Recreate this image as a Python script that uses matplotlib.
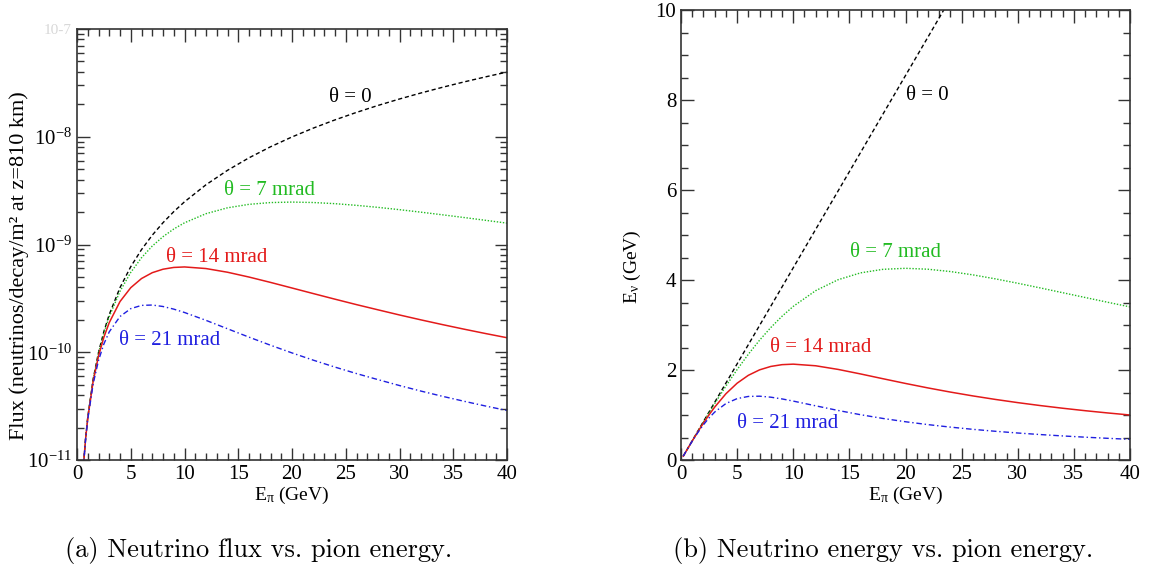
import numpy as np
import matplotlib
matplotlib.use("Agg")
import matplotlib.pyplot as plt
from matplotlib.ticker import MultipleLocator, FixedLocator, LogLocator, NullFormatter

plt.rcParams["font.family"] = ["Liberation Serif", "DejaVu Serif"]
plt.rcParams["mathtext.fontset"] = "custom"
plt.rcParams["mathtext.rm"] = "Liberation Serif"
plt.rcParams["mathtext.it"] = "Liberation Serif:italic"

# pion energy grid (GeV)
e_pi = [0.2, 0.6, 0.8, 1, 1.5, 2, 2.5, 3, 4, 5, 6, 7, 8, 9, 10, 12, 14, 16,
        18, 20, 22, 24, 26, 28, 30, 32, 34, 36, 38, 40]

# neutrino flux (neutrinos/decay/m^2 at z=810 km)
flux_0 = [9.96e-13, 8.96e-12, 1.593e-11, 2.490e-11, 5.604e-11, 9.961e-11, 1.556e-10,
          2.241e-10, 3.983e-10, 6.224e-10, 8.963e-10, 1.220e-9, 1.593e-9, 2.017e-9,
          2.490e-9, 3.585e-9, 4.880e-9, 6.374e-9, 8.067e-9, 9.959e-9, 1.205e-8,
          1.434e-8, 1.683e-8, 1.952e-8, 2.241e-8, 2.549e-8, 2.878e-8, 3.227e-8,
          3.595e-8, 3.984e-8]
flux_7 = [9.96e-13, 8.94e-12, 1.588e-11, 2.478e-11, 5.541e-11, 9.764e-11, 1.508e-10,
          2.143e-10, 3.681e-10, 5.510e-10, 7.537e-10, 9.671e-10, 1.182e-9, 1.392e-9,
          1.590e-9, 1.932e-9, 2.190e-9, 2.359e-9, 2.450e-9, 2.476e-9, 2.452e-9,
          2.393e-9, 2.309e-9, 2.211e-9, 2.105e-9, 1.995e-9, 1.886e-9, 1.780e-9,
          1.677e-9, 1.579e-9]
flux_14 = [9.95e-13, 8.90e-12, 1.573e-11, 2.441e-11, 5.359e-11, 9.205e-11, 1.378e-10,
           1.884e-10, 2.955e-10, 3.974e-10, 4.831e-10, 5.475e-10, 5.897e-10, 6.125e-10,
           6.190e-10, 5.981e-10, 5.528e-10, 4.988e-10, 4.449e-10, 3.947e-10, 3.500e-10,
           3.108e-10, 2.767e-10, 2.476e-10, 2.218e-10, 1.997e-10, 1.805e-10, 1.638e-10,
           1.492e-10, 1.364e-10]
flux_21 = [9.94e-13, 8.82e-12, 1.548e-11, 2.381e-11, 5.074e-11, 8.376e-11, 1.194e-10,
           1.547e-10, 2.147e-10, 2.539e-10, 2.722e-10, 2.743e-10, 2.658e-10, 2.513e-10,
           2.339e-10, 1.977e-10, 1.652e-10, 1.381e-10, 1.162e-10, 9.857e-11, 8.43e-11,
           7.28e-11, 6.34e-11, 5.57e-11, 4.91e-11, 4.36e-11, 3.90e-11, 3.51e-11,
           3.17e-11, 2.88e-11]

# neutrino energy (GeV)
enu_0 = [0.0854, 0.2563, 0.3418, 0.4272, 0.6408, 0.8544, 1.068, 1.2816, 1.7088, 2.136,
         2.5632, 2.990, 3.4176, 3.845, 4.272, 5.126, 5.981, 6.835, 7.690, 8.544, 9.398,
         10.253, 11.107, 11.962, 12.816, 13.670, 14.525, 15.379, 16.234, 17.088]
enu_7 = [0.0854, 0.2561, 0.3412, 0.4261, 0.6372, 0.8459, 1.0515, 1.2532, 1.6427, 2.0097,
         2.3504, 2.6624, 2.9439, 3.1942, 3.4137, 3.7637, 4.0065, 4.1585, 4.2374, 4.2598,
         4.2394, 4.1878, 4.1142, 4.0258, 3.9278, 3.8242, 3.7180, 3.6113, 3.5057, 3.4020]
enu_14 = [0.0854, 0.2554, 0.3396, 0.4229, 0.6266, 0.8213, 1.0049, 1.1752, 1.4719, 1.7069,
          1.8819, 2.0032, 2.0792, 2.1187, 2.1299, 2.0939, 2.0129, 1.9121, 1.8056, 1.7010,
          1.6017, 1.5093, 1.4242, 1.3463, 1.2750, 1.2099, 1.1504, 1.0958, 1.0458, 0.9998]
enu_21 = [0.0853, 0.2542, 0.3369, 0.4177, 0.6097, 0.7835, 0.9357, 1.0648, 1.2546, 1.3642,
          1.4125, 1.4180, 1.3959, 1.3572, 1.3092, 1.2038, 1.1004, 1.0062, 0.9229, 0.8500,
          0.7863, 0.7306, 0.6815, 0.6383, 0.5998, 0.5655, 0.5348, 0.5071, 0.4820, 0.4593]

black = "black"
green = "#22bb22"
red = "#e31a1a"
blue = "#1f1fe0"
lab_fs = 15

fig = plt.figure(figsize=(11.54, 5.70), dpi=100)
ax1 = fig.add_axes([77 / 1154, 110 / 570, 430 / 1154, 431 / 570])
ax2 = fig.add_axes([681 / 1154, 110 / 570, 449 / 1154, 450 / 570])

ax1.plot(e_pi, flux_0, color=black, lw=1, ls=(0, (3, 2)))
ax1.plot(e_pi, flux_7, color=green, lw=1, ls=(0, (1, 1.2)))
ax1.plot(e_pi, flux_14, color=red, lw=1.1, ls="-")
ax1.plot(e_pi, flux_21, color=blue, lw=1, ls=(0, (4, 2, 1, 2)))
ax1.set_yscale("log")
ax1.set_xlim(0, 40)
ax1.set_ylim(1e-11, 1e-7)
ax1.yaxis.set_major_locator(FixedLocator([1e-11, 1e-10, 1e-9, 1e-8, 1e-7]))
ax1.set_yticklabels(["$10^{-11}$", "$10^{-10}$", "$10^{-9}$", "$10^{-8}$", "10-7"])
ax1.yaxis.set_minor_locator(LogLocator(base=10, subs=np.arange(2, 10), numticks=20))
ax1.yaxis.set_minor_formatter(NullFormatter())
ax1.set_ylabel("Flux (neutrinos/decay/m² at z=810 km)", fontsize=16)
ax1.yaxis.set_label_coords(-0.112, 0.45)

ax1.text(25.4, 2.3e-8, "θ = 0", color=black, fontsize=lab_fs, ha="center", va="center")
ax1.text(17.9, 3.2e-9, "θ = 7 mrad", color=green, fontsize=lab_fs, ha="center", va="center")
ax1.text(13.0, 7.6e-10, "θ = 14 mrad", color=red, fontsize=lab_fs, ha="center", va="center")
ax1.text(8.6, 1.29e-10, "θ = 21 mrad", color=blue, fontsize=lab_fs, ha="center", va="center")

ax2.plot(e_pi, enu_0, color=black, lw=1, ls=(0, (3, 2)))
ax2.plot(e_pi, enu_7, color=green, lw=1, ls=(0, (1, 1.2)))
ax2.plot(e_pi, enu_14, color=red, lw=1.1, ls="-")
ax2.plot(e_pi, enu_21, color=blue, lw=1, ls=(0, (4, 2, 1, 2)))
ax2.set_xlim(0, 40)
ax2.set_ylim(0, 10)
ax2.yaxis.set_major_locator(MultipleLocator(2))
ax2.yaxis.set_minor_locator(MultipleLocator(0.5))
ax2.set_ylabel("E$_\\mathrm{\\nu}$ (GeV)", fontsize=14)
ax2.yaxis.set_label_coords(-0.085, 0.43)

ax2.text(21.96, 8.11, "θ = 0", color=black, fontsize=lab_fs, ha="center", va="center")
ax2.text(19.1, 4.62, "θ = 7 mrad", color=green, fontsize=lab_fs, ha="center", va="center")
ax2.text(12.4, 2.51, "θ = 14 mrad", color=red, fontsize=lab_fs, ha="center", va="center")
ax2.text(9.5, 0.8, "θ = 21 mrad", color=blue, fontsize=lab_fs, ha="center", va="center")

for ax in (ax1, ax2):
    ax.xaxis.set_major_locator(MultipleLocator(5))
    ax.xaxis.set_minor_locator(MultipleLocator(1))
    ax.tick_params(which="both", direction="in", top=True, right=True, labelsize=15,
                   color="#333333")
    ax.tick_params(which="major", length=9, width=1)
    ax.tick_params(which="minor", length=5, width=1)
    ax.set_xlabel("E$_\\mathrm{\\pi}$ (GeV)", fontsize=14, labelpad=1)
    for s in ax.spines.values():
        s.set_linewidth(1.2)
        s.set_color("#333333")

top = ax1.get_yticklabels()[-1]
top.set_color("#d8d8d8")
top.set_fontsize(11)

fig.text(65 / 1154, 1 - 551 / 570, "(a) Neutrino flux vs. pion energy.",
         family="cmr10", fontsize=19, ha="left", va="center")
fig.text(673 / 1154, 1 - 551 / 570, "(b) Neutrino energy vs. pion energy.",
         family="cmr10", fontsize=19, ha="left", va="center")

fig.savefig("out.png", dpi=100)
